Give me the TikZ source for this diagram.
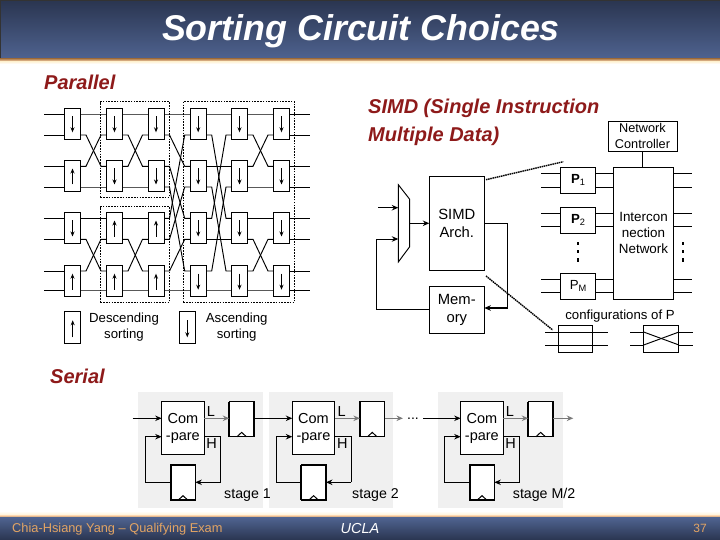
\documentclass[tikz,border=0pt]{standalone}
\usepackage{fontspec}
\setmainfont{Liberation Sans}
\usetikzlibrary{calc,arrows.meta}
\definecolor{hdark}{HTML}{2A3550}
\definecolor{hlight}{HTML}{4F6390}
\definecolor{tanb}{HTML}{B8895A}
\definecolor{palet}{HTML}{FFF3D6}
\definecolor{redt}{HTML}{8E1A1A}
\definecolor{orangef}{HTML}{E2A464}
\definecolor{bgg}{HTML}{F0F0F0}
\definecolor{greyw}{HTML}{7A7A7A}
\tikzset{
  x=1pt,y=-1pt,
  wire/.style={draw=black,line width=0.95pt},
  box/.style={draw=black,fill=white,line width=0.95pt,inner sep=0pt,outer sep=0pt,align=center,font=\fontsize{13.2}{16}\selectfont},
  sorter/.style={box,minimum width=16pt,minimum height=31pt},
  tip/.style={-{Stealth[length=5pt,width=4pt]}},
  bigtip/.style={-{Stealth[length=6.5pt,width=5.5pt]}},
  dotbox/.style={draw=black,line width=0.9pt,dash pattern=on 1.6pt off 1.2pt,inner sep=0pt,outer sep=0pt},
  heading/.style={text=redt,anchor=base west,inner sep=0pt,align=left,font=\fontsize{20}{28}\selectfont\bfseries\itshape},
  lab/.style={inner sep=0pt,align=center,font=\fontsize{13.2}{16}\selectfont},
  stagelab/.style={inner sep=0pt,anchor=base west,font=\fontsize{14.2}{16}\selectfont},
  reg/.style={box,minimum width=24.7pt,minimum height=35pt,line width=1.4pt},
  vdot/.style={fill=black,inner sep=0pt,minimum width=2.2pt,minimum height=3.2pt},
}
\begin{document}
\begin{tikzpicture}
\useasboundingbox (0,0) rectangle (720,540);
\fill[white] (0,0) rectangle (720,540);
% header
\shade[top color=hdark,bottom color=hlight] (0,0) rectangle (720,59);
\fill[black!80] (0,0) rectangle (720,0.8);
\fill[black!80] (0,0) rectangle (0.8,59);
\shade[top color=tanb,bottom color=orange!30] (0,59) rectangle (720,61.5);
\shade[top color=palet,bottom color=white] (0,61.5) rectangle (720,64);
\node[inner sep=0pt,anchor=base,text=white,font=\fontsize{35.8}{40}\selectfont\bfseries\itshape] (title) at (361,41) {Sorting Circuit Choices};
% footer
\shade[top color=white,bottom color=palet] (0,511) rectangle (720,515);
\shade[top color=orange!30,bottom color=tanb] (0,515) rectangle (720,517.5);
\shade[top color=hlight,bottom color=hdark] (0,517.5) rectangle (720,540);
\node[inner sep=0pt,anchor=base west,text=orangef,font=\fontsize{12.8}{14}\selectfont] (fauthor) at (12,532) {Chia-Hsiang Yang – Qualifying Exam};
\node[inner sep=0pt,anchor=base,text=white,font=\fontsize{14.5}{16}\selectfont\itshape] (fucla) at (360,533) {UCLA};
\node[inner sep=0pt,anchor=base,text=orangef,font=\fontsize{12}{14}\selectfont] (fnum) at (700,532) {37};
% headings
\node[heading] (hpar) at (44,89.5) {Parallel};
\node[heading] (hsimd) at (368,141.7) {SIMD (Single Instruction\\Multiple Data)};
\node[heading] (hser) at (50,383) {Serial};
% sorting network: dotted merger boxes
\node[dotbox,minimum width=69pt,minimum height=95.6pt] (m1) at (134.8,149.5) {};
\node[dotbox,minimum width=69pt,minimum height=95.6pt] (m2) at (134.8,254.5) {};
\node[dotbox,minimum width=111pt,minimum height=200.6pt] (m3) at (238.8,202) {};
% wires through the network
\foreach \c/\x in {1/72.5,2/114.5,3/156,4/198.2,5/239.5,6/281.5}
  \foreach \i/\y in {1/114,2/135,3/166.3,4/187,5/218.3,6/239.3,7/271,8/290}
    \coordinate (p\c-\i) at (\x,\y);
\foreach \i in {1,...,8} {
  \coordinate (in\i) at (44,0);
  \coordinate (out\i) at (310,0);
  \draw[wire] (in\i |- p1-\i) -- (p1-\i);
  \draw[wire] (p6-\i) -- (out\i |- p6-\i);
}
\foreach \g/\h/\perm in {1/2/{1/1,2/3,3/2,4/4,5/5,6/7,7/6,8/8},
                         2/3/{1/1,2/3,3/2,4/4,5/5,6/7,7/6,8/8},
                         3/4/{1/1,2/3,3/5,4/7,5/2,6/4,7/6,8/8},
                         4/5/{1/1,2/5,3/3,4/7,5/2,6/6,7/4,8/8},
                         5/6/{1/1,2/3,3/2,4/4,5/5,6/7,7/6,8/8}}
  \foreach \a/\b in \perm
    \draw[wire] (p\g-\a) -- ($(p\g-\a)+(13.5,0)$) -- ($(p\h-\b)+(-13.5,0)$) -- (p\h-\b);
% sorters
\foreach \c/\x in {1/72.5,2/114.5,3/156,4/198.2,5/239.5,6/281.5}
  \foreach \r/\y in {1/123.8,2/176,3/228,4/281.2}
    \node[sorter] (s\c-\r) at (\x,\y) {};
\foreach \c/\r in {1/1,1/3,2/1,2/2,3/1,3/2,4/1,4/2,4/3,4/4,5/1,5/2,5/3,5/4,6/1,6/2,6/3,6/4}
  \draw[wire,tip] ($(s\c-\r.north)+(0,8)$) -- ($(s\c-\r.south)+(0,-7)$);
\foreach \c/\r in {1/2,1/4,2/3,2/4,3/3,3/4}
  \draw[wire,tip] ($(s\c-\r.south)+(0,-7)$) -- ($(s\c-\r.north)+(0,8)$);
% legend
\node[sorter,minimum height=32pt] (lg1) at (72.7,327.3) {};
\node[sorter,minimum height=32pt] (lg2) at (187.3,327.3) {};
\draw[wire,tip] ($(lg1.south)+(0,-6)$) -- ($(lg1.north)+(0,9)$);
\draw[wire,tip] ($(lg2.north)+(0,9)$) -- ($(lg2.south)+(0,-6)$);
\node[lab] (lt1) at (124,327) {Descending\\sorting};
\node[lab] (lt2) at (236.7,327) {Ascending\\sorting};
% SIMD side
\node[box,minimum width=55pt,minimum height=94pt,font=\fontsize{14.8}{18.5}\selectfont] (simd) at (456.8,223.3) {SIMD\\Arch.};
\node[box,minimum width=55pt,minimum height=47pt,font=\fontsize{14.8}{18.5}\selectfont] (mem) at (456.8,309.8) {Mem-\\ory};
\draw[wire,fill=white] (398.3,184.7) coordinate (mx1) -- (409.7,199.3) coordinate (mx2) -- (409.7,246.7) coordinate (mx3) -- (398.3,262) coordinate (mx4) -- cycle;
\coordinate (minA) at (378.3,207.7);
\coordinate (minB) at (376.3,239);
\coordinate (mout) at (409.7,223.3);
\coordinate (rgt) at (507.7,223.3);
\coordinate (mport) at (484.3,308);
\draw[wire,line width=1.5pt,bigtip] (minA) -- (minA -| mx1);
\draw[wire,bigtip] (mem.west |- 0,309.3) -- (minB |- 0,309.3) -- (minB) -- (minB -| mx1);
\draw[wire,bigtip] (mout) -- (mout -| simd.west);
\draw[wire] (simd.east |- rgt) -- (rgt);
\draw[wire,line width=1.4pt,bigtip] (rgt) -- (rgt |- mport) -- (mport);
\coordinate (dotA) at (563.3,161.7);
\coordinate (dotB) at (552.7,330);
\draw[line width=1.4pt,dash pattern=on 1.5pt off 0.7pt] (simd.north east) ++(1.7,3.4) -- (dotA);
\draw[line width=1.4pt,dash pattern=on 1.5pt off 0.7pt] (simd.south east) ++(1.7,5.7) -- (dotB);
% processors and network
\node[box,minimum width=69pt,minimum height=30pt,font=\fontsize{12.7}{16}\selectfont] (ctl) at (642.5,136.3) {Network\\Controller};
\draw[wire] (ctl.south -| 642.7,0) -- (642.7,167.3);
\foreach \n/\yc/\ya/\yb/\t in {1/180.3/173.3/187.3/{\textbf{P}\textsubscript{1}},2/220.2/213.3/226.7/{\textbf{P}\textsubscript{2}},M/286.3/279.3/292.3/{P\textsubscript{M}}} {
  \draw[wire] (541,\ya) -- (692,\ya);
  \draw[wire] (541,\yb) -- (692,\yb);
  \node[box,minimum width=35.3pt,minimum height=26.2pt] (P\n) at (578.3,\yc) {\t};
}
\node[box,minimum width=60.4pt,minimum height=132pt,font=\fontsize{13.4}{16}\selectfont] (net) at (643.5,233.3) {Intercon\\nection\\Network};
\foreach \i/\y in {1/243.3,2/251.7,3/260} {
  \node[vdot] (dl\i) at (578.3,\y) {};
  \node[vdot] (dr\i) at (682.7,\y) {};
}
\node[lab] (cfg) at (620,316) {configurations of P};
\foreach \y in {332,345} {
  \draw[wire] (545,\y) -- (607.7,\y);
  \draw[wire] (630,\y) -- (692.7,\y);
}
\node[box,minimum width=34.4pt,minimum height=26.7pt,fill=none] (c1) at (575.5,338.7) {};
\node[box,minimum width=35.3pt,minimum height=26.7pt] (c2) at (661.3,338.7) {};
\draw[wire] (c2.west |- 0,332) -- (c2.east |- 0,345);
\draw[wire] (c2.west |- 0,345) -- (c2.east |- 0,332);
% serial stages
\fill[bgg] (138.3,392.3) rectangle (262.7,508);
\fill[bgg] (269.3,392.3) rectangle (392.7,508);
\fill[bgg] (438.3,392.3) rectangle (562.7,508);
\coordinate (lineL) at (0,418.3);
\coordinate (lineH) at (0,436.7);
\coordinate (lineF) at (0,482.3);
\foreach \n/\dx in {1/0,2/130.6,3/299} {
  \node[box,minimum width=42.3pt,minimum height=52.6pt,font=\fontsize{14.5}{17.5}\selectfont] (cmp\n) at (182.85+\dx,428.2) {Com\\-pare};
  \node[reg] (ra\n) at (241.65+\dx,419.2) {};
  \node[reg] (rb\n) at (183+\dx,482.5) {};
  \coordinate (fb\n) at (145.7+\dx,0);
  \coordinate (hx\n) at (220.7+\dx,0);
  \foreach \r in {ra\n,rb\n} {
    \draw[line width=1pt] ($(\r.south)+(-4.7,0)$) -- ($(\r.south)+(0,-4.3)$) -- ($(\r.south)+(4.7,0)$);
    \draw[line width=1.9pt] (\r.north west) -- (\r.south west);
  }
  \draw[draw=greyw,line width=1.5pt,bigtip] (cmp\n.east |- lineL) -- (ra\n.west |- lineL);
  \draw[wire] (cmp\n.east |- lineH) -- (hx\n |- lineH) -- (hx\n |- lineF);
  \draw[wire,bigtip] (hx\n |- lineF) -- (rb\n.east |- lineF);
  \draw[wire,bigtip] (rb\n.west |- lineF) -- (fb\n |- lineF) -- (fb\n |- lineH) -- (cmp\n.west |- lineH);
  \node[inner sep=0pt,font=\fontsize{14.5}{16}\selectfont] (lL\n) at (211+\dx,411.5) {L};
  \node[inner sep=0pt,font=\fontsize{14.5}{16}\selectfont] (lH\n) at (211.7+\dx,444) {H};
}
\coordinate (srcin) at (132.7,418.3);
\draw[wire,bigtip] (srcin) -- (cmp1.west |- lineL);
\draw[wire,bigtip] (ra1.east |- lineL) -- (cmp2.west |- lineL);
\node[inner sep=0pt,anchor=base,font=\fontsize{14}{16}\selectfont] (sdots) at (413,419) {...};
\coordinate (s2end) at (sdots.west |- lineL);
\coordinate (s3start) at (423.3,418.3);
\draw[draw=greyw,line width=1.5pt,bigtip] (ra2.east |- lineL) -- ($(s2end)+(-4,0)$);
\draw[wire,bigtip] (s3start) -- (cmp3.west |- lineL);
\coordinate (s3end) at (573.3,418.3);
\draw[draw=greyw,line width=1.5pt,bigtip] (ra3.east |- lineL) -- (s3end);
\node[stagelab] (st1) at (224,498) {stage 1};
\node[stagelab] (st2) at (352,498) {stage 2};
\node[stagelab] (st3) at (512.7,498) {stage M/2};
\end{tikzpicture}
\end{document}
